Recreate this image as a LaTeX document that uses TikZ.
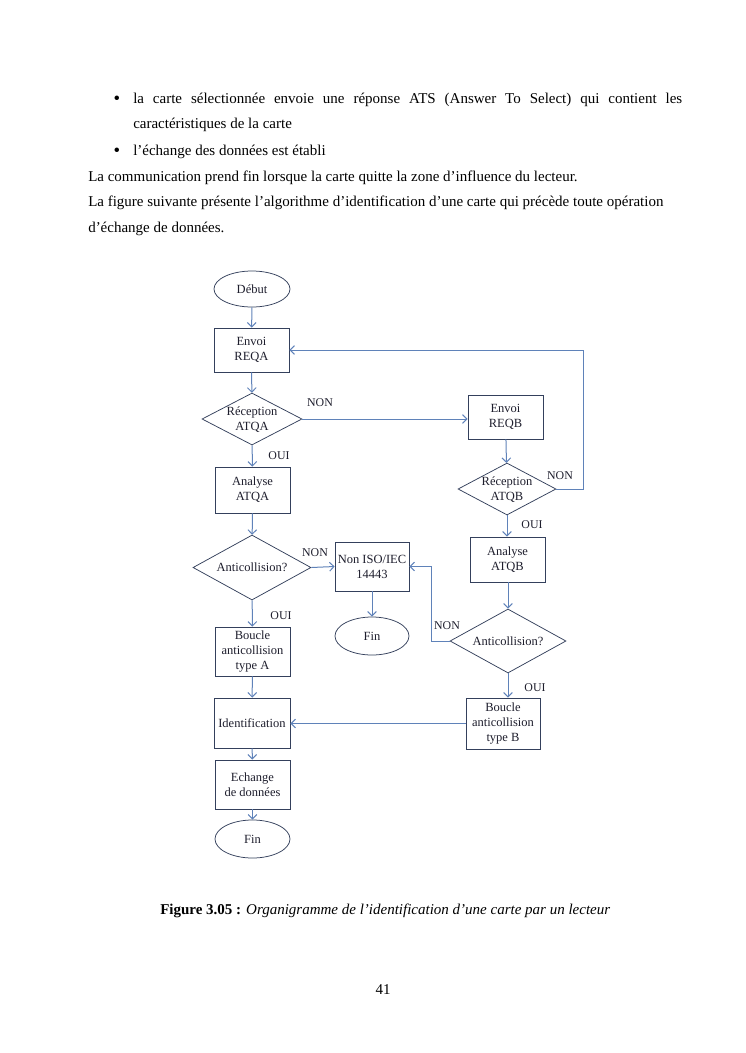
\documentclass[tikz,border=0pt]{standalone}
\usepackage{fontspec}
\setmainfont{Liberation Serif}
\usetikzlibrary{shapes.geometric,arrows.meta}
\definecolor{boxc}{RGB}{52,64,92}
\definecolor{arrc}{RGB}{95,130,185}
\definecolor{txtc}{RGB}{30,30,45}
\newcommand{\dectext}[1]{\makebox[0pt]{\smash{\raisebox{-3.5pt}{\begin{tabular}{@{}c@{}}#1\end{tabular}}}}}
\begin{document}
\begin{tikzpicture}[x=0.8pt,y=-0.8pt,
  body/.style={inner sep=0pt, font=\fontsize{12}{14}\selectfont},
  bul/.style={inner sep=0pt, font=\fontsize{15}{16}\selectfont},
  box/.style={draw=boxc, line width=0.6pt, align=center, inner sep=1pt, text=txtc, font=\fontsize{10}{12}\selectfont},
  term/.style={ellipse, draw=boxc, line width=0.6pt, inner sep=0pt, text=txtc, font=\fontsize{10}{12}\selectfont},
  dec/.style={diamond, draw=boxc, line width=0.6pt, inner sep=0pt, text=txtc, font=\fontsize{10}{12}\selectfont},
  lab/.style={inner sep=0pt, text=txtc, font=\fontsize{9.5}{11}\selectfont},
  arr/.style={draw=arrc, line width=0.8pt, -{Straight Barb[length=3.5pt,width=7pt]}},
  ln/.style={draw=arrc, line width=0.8pt}]
\useasboundingbox (0,0) rectangle (745,1053);

% body text
\node[bul, anchor=base] (b1) at (117,104) {\textbullet};
\node[body, anchor=base west] (t1) at (133,103) {\makebox[439.2pt][s]{la carte sélectionnée envoie une réponse ATS (Answer To Select) qui contient les}};
\node[body, anchor=base west] (t2) at (133,128) {caractéristiques de la carte};
\node[bul, anchor=base] (b2) at (117,156) {\textbullet};
\node[body, anchor=base west] (t3) at (133,155) {l’échange des données est établi};
\node[body, anchor=base west] (t4) at (88,181) {La communication prend fin lorsque la carte quitte la zone d’influence du lecteur.};
\node[body, anchor=base west] (t5) at (88,206) {La figure suivante présente l’algorithme d’identification d’une carte qui précède toute opération};
\node[body, anchor=base west] (t6) at (88,232) {d’échange de données.};

% flowchart nodes - left column
\node[term, minimum width=60.8pt, minimum height=28.8pt] (debut) at (252,289) {Début};
\node[box, minimum width=60pt, minimum height=35.2pt] (reqa) at (251.5,350) {Envoi\\REQA};
\node[dec, minimum width=80pt, minimum height=41.6pt] (rqa) at (252,419) {\dectext{Réception\\ATQA}};
\node[box, minimum width=60pt, minimum height=36.8pt] (ana) at (252.5,490) {Analyse\\ATQA};
\node[dec, minimum width=94.4pt, minimum height=52pt] (aca) at (252,567.5) {\dectext{Anticollision?}};
\node[box, minimum width=60pt, minimum height=39.2pt] (boua) at (252.5,651.5) {Boucle\\anticollision\\type A};
\node[box, minimum width=60.8pt, minimum height=40pt] (ident) at (252,723) {Identification};
\node[box, minimum width=60pt, minimum height=39.2pt] (ech) at (252.5,784.5) {Echange\\de données};
\node[term, minimum width=60pt, minimum height=30.4pt] (fin2) at (252.5,839) {Fin};

% middle
\node[box, minimum width=59.2pt, minimum height=39.2pt] (noniso) at (372,566.5) {Non ISO/IEC\\14443};
\node[term, minimum width=59.2pt, minimum height=30.4pt] (fin1) at (372,636) {Fin};

% right column
\node[box, minimum width=60pt, minimum height=35.2pt] (reqb) at (505.5,417) {Envoi\\REQB};
\node[dec, minimum width=78.4pt, minimum height=41.6pt] (rqb) at (507,489) {\dectext{Réception\\ATQB}};
\node[box, minimum width=60pt, minimum height=36pt] (anb) at (507.5,559.5) {Analyse\\ATQB};
\node[dec, minimum width=92.8pt, minimum height=51.2pt] (acb) at (508,641) {\dectext{Anticollision?}};
\node[box, minimum width=59.2pt, minimum height=40.8pt] (boub) at (503,723.5) {Boucle\\anticollision\\type B};

\coordinate (loopR) at (583,350);
\coordinate (loopB) at (431,566.5);

% connectors
\draw[arr] (debut) -- (reqa);
\draw[arr] (reqa) -- (rqa);
\draw[arr] (rqa) -- (ana);
\draw[arr] (ana) -- (aca);
\draw[arr] (aca) -- (boua);
\draw[arr] (boua) -- (ident);
\draw[arr] (ident) -- (ech);
\draw[arr] (ech) -- (fin2);
\draw[arr] (rqa.east) -- (rqa.east -| reqb.west);
\draw[arr] (reqb) -- (rqb);
\draw[arr] (rqb.south) -- (rqb.south |- anb.north);
\draw[arr] (anb.south) -- (anb.south -| acb.north) -- (acb.north);
\draw[arr] (acb.south) -- (acb.south |- boub.north);
\draw[arr] (rqb.east) -| (loopR) -- (reqa.east);
\draw[arr] (acb.west) -| (loopB) -- (noniso.east);
\draw[arr] (aca.east) -- (noniso.west);
\draw[arr] (noniso) -- (fin1);
\draw[arr] (boub.west) -- (boub.west -| ident.east);

% labels
\node[lab] (l1) at (320,403) {NON};
\node[lab] (l2) at (279,456) {OUI};
\node[lab] (l3) at (560,476) {NON};
\node[lab] (l4) at (532,525) {OUI};
\node[lab] (l5) at (315,553) {NON};
\node[lab] (l6) at (281,616) {OUI};
\node[lab] (l7) at (447,626) {NON};
\node[lab] (l8) at (535,688) {OUI};

% caption and page number
\node[body, anchor=base west] (cap) at (160,914) {\textbf{Figure 3.05 :} \textit{Organigramme de l’identification d’une carte par un lecteur}};
\node[body, anchor=base] (pg) at (383,994) {41};
\end{tikzpicture}
\end{document}
